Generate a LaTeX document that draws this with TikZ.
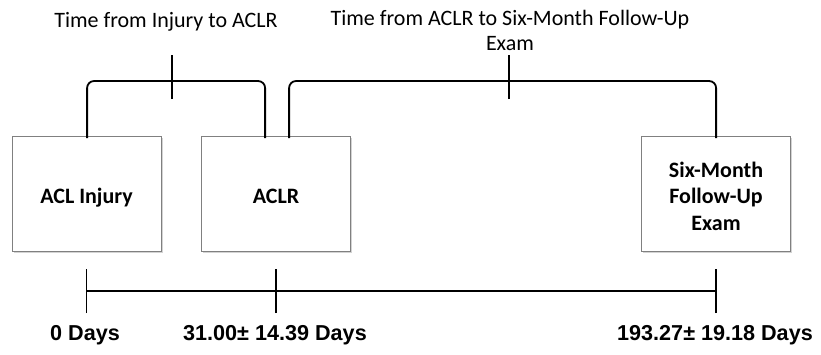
\documentclass[tikz,border=0pt]{standalone}
\usepackage{fontspec}
\setmainfont{Carlito}
\newfontfamily\arialfont{Liberation Sans}
\usetikzlibrary{shadows}
\begin{document}
\begin{tikzpicture}[x=1pt,y=-1pt,
  box/.style={draw=black!50, line width=1.2pt, fill=white, minimum width=149pt, minimum height=115pt,
    anchor=north west, inner sep=0pt,
    drop shadow={shadow xshift=1.2pt, shadow yshift=-1.8pt, opacity=0.35}},
  boxtxt/.style={font=\fontsize{22}{26.5}\selectfont\bfseries, align=center, inner sep=0pt},
  toptxt/.style={font=\fontsize{22}{24.5}\selectfont, align=center, inner sep=0pt, anchor=base},
  daytxt/.style={font=\arialfont\fontsize{21.6}{24}\selectfont\bfseries, inner sep=0pt, anchor=base},
  brace/.style={line width=1.8pt, rounded corners=7pt},
  tl/.style={line width=1.8pt}]
\useasboundingbox (0,0) rectangle (821,354);

% boxes
\node[box] (inj) at (12,136) {};
\node[box] (aclr) at (201,136) {};
\node[box] (fu) at (641,136) {};
\node[boxtxt, anchor=base] (injt) at (86.5,203) {ACL Injury};
\node[boxtxt, anchor=base] (aclrt) at (276,203) {ACLR};
\node[boxtxt, anchor=base] (fut) at (716,230) {Six-Month\\Follow-Up\\Exam};

% braces
\coordinate (b1l) at (inj.north);
\coordinate (b1r) at ([xshift=-11pt]aclr.north);
\coordinate (b2l) at ([xshift=13pt]aclr.north);
\coordinate (b2r) at (fu.north);
\draw[brace] ([yshift=-2pt]b1l) -- ++(0,-57) -| ([yshift=-2pt]b1r);
\draw[brace] ([yshift=-2pt]b2l) -- ++(0,-57) -| ([yshift=-2pt]b2r);
\coordinate (t1) at (172,77);
\coordinate (t2) at (509,77);
\draw[tl] ([yshift=-22pt]t1) -- ([yshift=22pt]t1);
\draw[tl] ([yshift=-22pt]t2) -- ([yshift=22pt]t2);
\node[toptxt] (lab1) at (166,27) {Time from Injury to ACLR};
\node[toptxt] (lab2) at (510,50) {Time from ACLR to Six-Month Follow-Up\\Exam};

% timeline
\coordinate (p0) at (86.5,291);
\coordinate (p1) at (276,291);
\coordinate (p2) at (716,291);
\draw[tl] (p0) -- (p2);
\foreach \p in {p0,p1,p2}{\draw[tl] ([yshift=-22pt]\p) -- ([yshift=22pt]\p);}
\node[daytxt] (d0) at (85,340) {0 Days};
\node[daytxt] (d1) at (275,340) {31.00± 14.39 Days};
\node[daytxt] (d2) at (715,340) {193.27± 19.18 Days};
\end{tikzpicture}
\end{document}
